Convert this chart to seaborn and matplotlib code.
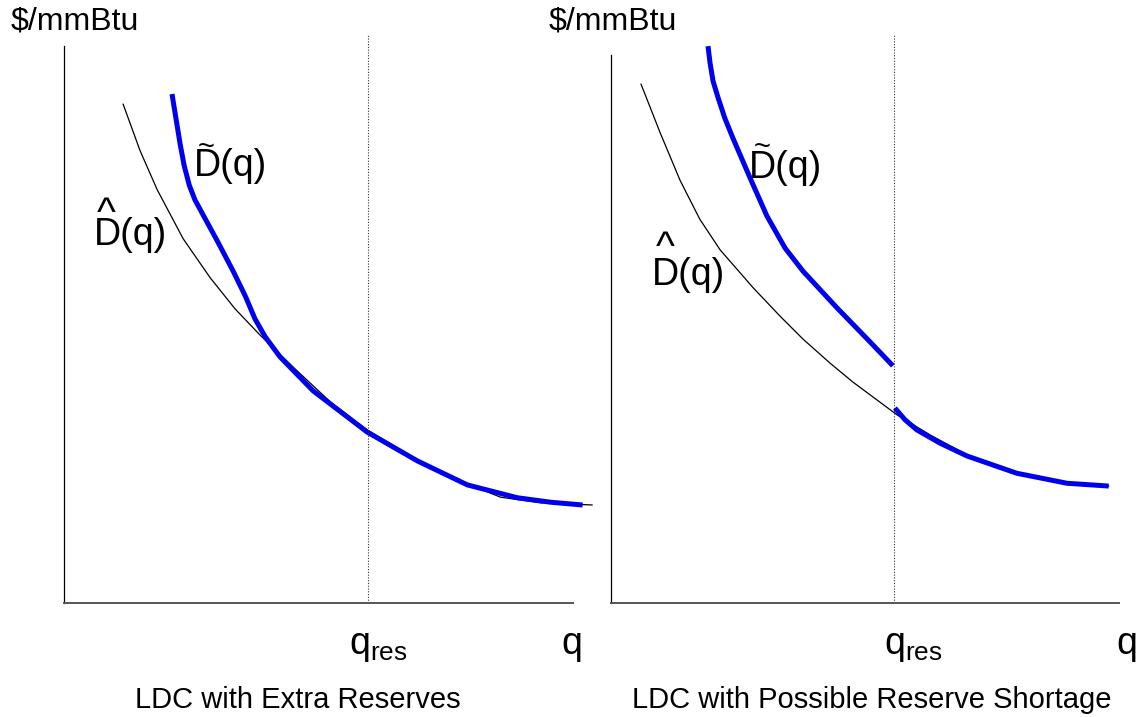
import matplotlib
matplotlib.use("Agg")
import matplotlib.pyplot as plt
import seaborn as sns

# left panel: LDC with extra reserves
left_hat_q = [1.16, 1.49, 1.83, 2.34, 2.87, 3.36, 3.85, 4.54, 5.23, 5.95, 6.94, 7.78, 8.57, 9.35, 10.37]
left_hat_p = [8.96, 8.13, 7.42, 6.54, 5.84, 5.28, 4.81, 4.20, 3.61, 3.11, 2.57, 2.19, 1.90, 1.80, 1.76]
left_tilde_q = [2.12, 2.20, 2.28, 2.36, 2.46, 2.57, 2.73, 3.01, 3.32, 3.56, 3.75, 3.95, 4.24,
                4.89, 5.95, 6.94, 7.92, 8.90, 9.55, 10.18]
left_tilde_p = [9.14, 8.69, 8.24, 7.85, 7.50, 7.24, 6.97, 6.50, 5.96, 5.51, 5.10, 4.78, 4.42,
                3.81, 3.07, 2.55, 2.12, 1.89, 1.81, 1.76]
left_qres = 5.97

# right panel: LDC with possible reserve shortage
right_hat_q = [0.59, 0.97, 1.36, 1.75, 2.15, 2.80, 3.33, 3.78, 4.31, 4.76, 5.63, 6.28, 7.01,
               7.99, 8.98, 9.80]
right_hat_p = [9.32, 8.44, 7.59, 6.89, 6.34, 5.66, 5.15, 4.74, 4.31, 3.97, 3.38, 3.02, 2.66,
               2.33, 2.15, 2.10]
right_tilde_hi_q = [1.91, 1.95, 2.01, 2.11, 2.24, 2.40, 2.74, 3.07, 3.43, 3.78, 4.45, 5.10, 5.55]
right_tilde_hi_p = [10.0, 9.70, 9.37, 9.07, 8.71, 8.35, 7.63, 6.95, 6.37, 5.96, 5.30, 4.69, 4.26]
right_tilde_lo_q = [5.59, 5.79, 6.02, 6.48, 7.01, 7.99, 8.98, 9.80]
right_tilde_lo_p = [3.50, 3.29, 3.11, 2.87, 2.64, 2.33, 2.15, 2.10]
right_qres = 5.57

titles = ["LDC with Extra Reserves", "LDC with Possible Reserve Shortage"]
unit_label = r"\$/mmBtu"

sns.set_style("white")
plt.rcParams['font.family'] = ['Liberation Sans', 'DejaVu Sans']
plt.rcParams['text.color'] = 'black'
plt.rcParams['xtick.color'] = 'black'
plt.rcParams['mathtext.fontset'] = 'custom'
plt.rcParams['mathtext.rm'] = 'Liberation Sans'
plt.rcParams['mathtext.it'] = 'Liberation Sans:italic'

W, H = 1143, 717
fig = plt.figure(figsize=(W / 100, H / 100), dpi=100)
axL = fig.add_axes([64 / W, 114 / H, 540 / W, 568 / H])
axR = fig.add_axes([611 / W, 114 / H, 518 / W, 568 / H])

blue = "#0000ee"

def draw(ax, hat_q, hat_p, tildes, qres, xmax, ytop, label_pos):
    sns.lineplot(x=hat_q, y=hat_p, ax=ax, color="black", lw=0.9, sort=False, estimator=None)
    for tq, tp in tildes:
        sns.lineplot(x=tq, y=tp, ax=ax, color=blue, lw=3.6, sort=False, estimator=None,
                     solid_capstyle="butt", solid_joinstyle="round")
    ax.axvline(qres, color="#333333", lw=0.8, ls=(0, (1, 1.5)))
    ax.set_xlim(0, xmax)
    ax.set_ylim(0, 10.2)
    sns.despine(ax=ax)
    ax.spines['left'].set_bounds(0, ytop)
    ax.spines['left'].set_color("black")
    ax.spines['left'].set_linewidth(0.9)
    ax.spines['bottom'].set_bounds(0, 10)
    ax.spines['bottom'].set_color("#555555")
    ax.spines['bottom'].set_linewidth(1.4)
    ax.set_yticks([])
    ax.set_xticks(label_pos)
    ax.set_xticklabels([r'$\mathrm{q_{res}}$', r'$\mathrm{q}$'], fontsize=27)
    ax.tick_params(axis='x', length=0, pad=18)
    ax.set_xlabel("")
    ax.set_ylabel("")

def curve_label(ax, x, y, accent, ax_x, ax_y, accent_size):
    ax.text(x, y, "D(q)", fontsize=27, va='baseline', ha='left')
    ax.text(ax_x, ax_y, accent, fontsize=accent_size, va='baseline', ha='center')

draw(axL, left_hat_q, left_hat_p, [(left_tilde_q, left_tilde_p)], left_qres, 10.6, 10,
     [6.17, 9.96])
draw(axR, right_hat_q, right_hat_p,
     [(right_tilde_hi_q, right_tilde_hi_p), (right_tilde_lo_q, right_tilde_lo_p)],
     right_qres, 10.2, 9.84, [5.96, 10.15])

# curve labels (D with tilde / hat accents)
curve_label(axL, 2.55, 7.67, "~", 2.79, 8.05, 21)
curve_label(axL, 0.59, 6.43, "^", 0.83, 6.79, 29)
curve_label(axR, 2.72, 7.63, "~", 2.97, 8.04, 21)
curve_label(axR, 0.81, 5.71, "^", 1.06, 6.18, 29)

# bottom titles
axL.text(4.58, -1.74, titles[0], fontsize=21, ha='center', va='center', clip_on=False)
axR.text(5.14, -1.74, titles[1], fontsize=21, ha='center', va='center', clip_on=False)

# y-axis unit labels
fig.text(11 / W, 1 - 21 / H, unit_label, fontsize=23, ha='left', va='center')
fig.text(549 / W, 1 - 21 / H, unit_label, fontsize=23, ha='left', va='center')

fig.savefig("out.png", dpi=100)
